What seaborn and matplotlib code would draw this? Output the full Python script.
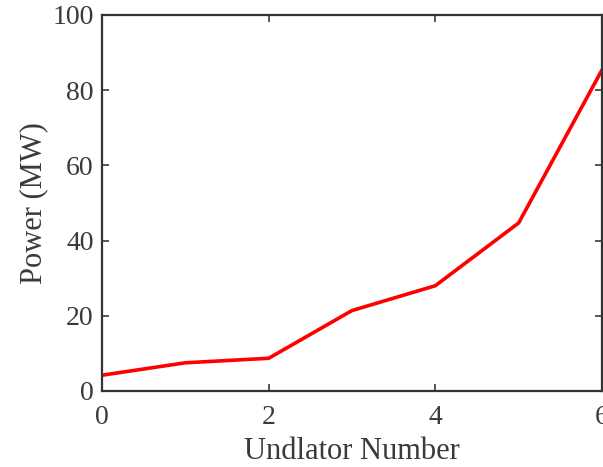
import matplotlib
matplotlib.use("Agg")
import matplotlib.pyplot as plt
import seaborn as sns
import pandas as pd

# values
undulator_number = [0, 1, 2, 3, 4, 5, 6]
power_mw = [4.2, 7.5, 8.7, 21.4, 28.0, 44.7, 85.4]

df = pd.DataFrame({"n": undulator_number, "power": power_mw})

sns.set_theme(style="ticks")
plt.rcParams['font.family'] = ['Liberation Serif', 'DejaVu Serif']

fig = plt.figure(figsize=(6.03, 4.67), dpi=100)
ax = fig.add_axes([102 / 603, 76 / 467, 500 / 603, 376 / 467])

sns.lineplot(data=df, x="n", y="power", color="#ff0000", linewidth=2.6, ax=ax)

ax.set_xlim(0, 6)
ax.set_ylim(0, 100)
ax.set_xticks([0, 2, 4, 6])
ax.set_yticks([0, 20, 40, 60, 80, 100])
ax.tick_params(direction="in", top=True, right=True, length=5, width=1.2,
               colors="#3a3a3a", labelsize=20, labelcolor="#3a3a3a", pad=6)
ax.tick_params(axis="x", pad=10)
for s in ax.spines.values():
    s.set_color("#333333")
    s.set_linewidth(1.6)
ax.set_xlabel("Undlator Number", fontsize=22, color="#3a3a3a", labelpad=5)
ax.set_ylabel("Power (MW)", fontsize=22, color="#3a3a3a", labelpad=3)

fig.savefig("out.png", dpi=100)
